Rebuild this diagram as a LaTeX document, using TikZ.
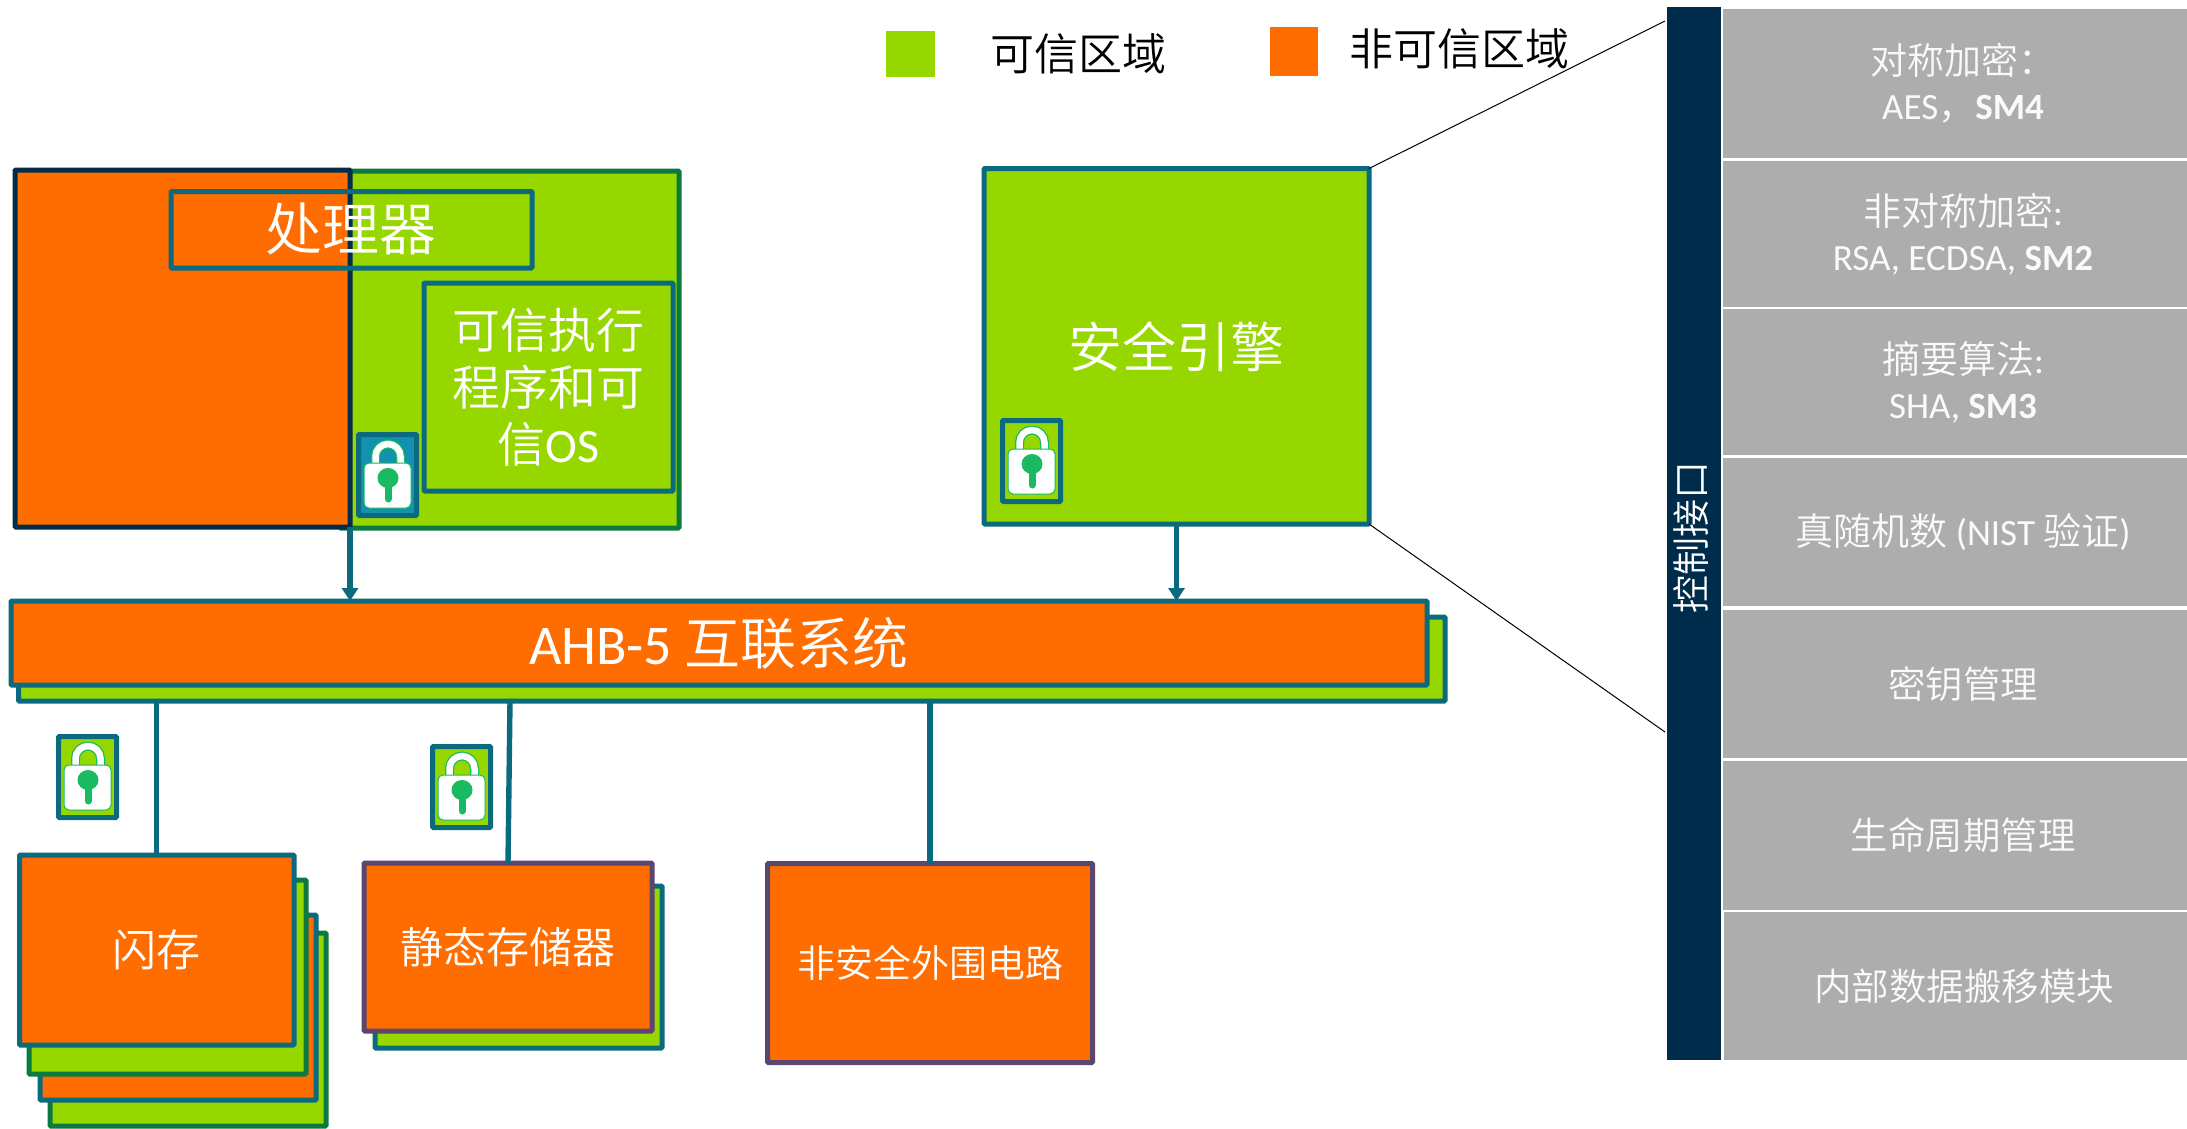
\documentclass[tikz,border=0pt]{standalone}
\usepackage{fontspec}
\setmainfont{Carlito}
\newfontfamily\cjk{Noto Sans CJK SC DemiLight}
\usetikzlibrary{arrows.meta,calc}
\definecolor{org}{HTML}{FF6C00}
\definecolor{grn}{HTML}{97D700}
\definecolor{teal2}{HTML}{0B6A7E}
\definecolor{navy}{HTML}{002C4C}
\definecolor{dgrn}{HTML}{0A7A3E}
\definecolor{purp}{HTML}{5B4670}
\definecolor{lockblue}{HTML}{1490B0}
\definecolor{lockgrn}{HTML}{19BA62}
\definecolor{cellgray}{HTML}{ADADAD}
\definecolor{celltxt}{HTML}{FAFAFA}
\newcommand{\fsz}[2]{\fontsize{#1}{#2}\selectfont}
\tikzset{
  x=1pt,y=-1pt,
  blk/.style={rectangle,inner sep=0pt,outer sep=0pt,line width=5pt,rounded corners=1pt,text=white,align=center,anchor=north west},
  orgbox/.style={blk,fill=org,draw=teal2},
  grnbox/.style={blk,fill=grn,draw=teal2},
  swatch/.style={rectangle,inner sep=0pt,outer sep=0pt,anchor=north west},
  legendtxt/.style={text=black,inner sep=0pt,font=\cjk\fsz{44}{50}},
  cell/.style={rectangle,fill=cellgray,inner sep=0pt,outer sep=0pt,anchor=north west,text=celltxt,align=center},
  conn/.style={teal2,line width=5.4pt},
  arr/.style={conn,-{Triangle[width=16pt,length=13pt]}},
  zoomline/.style={black,line width=1pt},
  lockbox/.style={blk,draw=teal2,minimum width=58pt,minimum height=81pt},
}
% name, x, y of outer top left, fill
\newcommand{\lockicon}[4]{%
  \node[lockbox,fill=#4] (#1) at (#2+2.5,#3+2.5) {};
  \begin{scope}[shift={(#2,#3)}]
    \draw[lockgrn,line width=9pt] (19.5,36) -- (19.5,24.5) arc[start angle=180,end angle=360,radius=12.5] -- (44.5,36);
    \draw[white,line width=6.5pt] (19.5,36) -- (19.5,24.5) arc[start angle=180,end angle=360,radius=12.5] -- (44.5,36);
    \draw[lockgrn,fill=white,line width=1pt,rounded corners=5pt] (8,31) rectangle (55,76);
    \fill[lockgrn] (32,46) ellipse[x radius=10.5,y radius=10];
    \draw[lockgrn,line width=7pt,line cap=round] (32,50) -- (32,67);
  \end{scope}}
\begin{document}
\begin{tikzpicture}
\useasboundingbox[fill=white] (0,0) rectangle (2187,1129);
% legend
\node[swatch,fill=grn,minimum width=49pt,minimum height=46pt] (sw1) at (886,31) {};
\node[legendtxt] (lg1) at (1078,54) {可信区域};
\node[swatch,fill=org,minimum width=48pt,minimum height=49pt] (sw2) at (1270,27) {};
\node[legendtxt] (lg2) at (1459,49) {非可信区域};
% processor
\node[blk,fill=grn,draw=dgrn,minimum width=339pt,minimum height=357pt] (cpug) at (340,171) {};
\node[blk,fill=org,draw=navy,minimum width=335pt,minimum height=357pt] (cpuo) at (15,170) {};
\node[blk,draw=teal2,minimum width=361pt,minimum height=76.5pt] (cpu) at (171,191.5) {};
\node[text=white,inner sep=0pt,font=\cjk\fsz{57}{60}] (cpul) at (351,229) {处理器};
\node[grnbox,minimum width=249pt,minimum height=208pt,font=\cjk\fsz{48}{57}] (tee) at (424,283) {可信执行\\程序和可\\信{\fontspec{Carlito}OS}};
\lockicon{lk1}{356}{432}{lockblue}
% engine
\node[grnbox,minimum width=385pt,minimum height=355.5pt,font=\cjk\fsz{54}{60}] (eng) at (984,168.5) {安全引擎};
\lockicon{lk2}{1000}{418}{grn}
% bus
\node[grnbox,minimum width=1426.5pt,minimum height=84pt] (busg) at (18.5,617) {};
\node[orgbox,minimum width=1416pt,minimum height=84pt] (bus) at (11,601) {\fsz{56}{60}AHB-5 {\cjk\fsz{56}{60}互联系统}};
% locks
\lockicon{lk3}{56}{734}{grn}
\lockicon{lk4}{430}{744}{grn}
% flash
\node[grnbox,draw=dgrn,minimum width=276pt,minimum height=193pt] (f4) at (50,933) {};
\node[orgbox,minimum width=276pt,minimum height=185pt] (f3) at (40,915) {};
\node[grnbox,draw=dgrn,minimum width=277pt,minimum height=194pt] (f2) at (29,880) {};
\node[orgbox,minimum width=274.5pt,minimum height=190pt,font=\cjk\fsz{44}{50}] (flash) at (19.5,855) {闪存};
% sram
\node[grnbox,minimum width=287pt,minimum height=162pt] (s2) at (375,886) {};
\node[orgbox,draw=purp,minimum width=288pt,minimum height=168pt,font=\cjk\fsz{43}{50}] (sram) at (364,863) {静态存储器};
% peripheral
\node[orgbox,draw=purp,minimum width=325pt,minimum height=199pt,font=\cjk\fsz{38}{44}] (per) at (767.5,863.5) {非安全外围电路};
% connectors
\draw[arr] (cpuo.south east) -- (cpuo.south east |- bus.north);
\draw[arr] (eng.south) -- (eng.south |- bus.north);
\draw[conn] (busg.south -| flash.north) -- (flash.north);
\coordinate (sramtop) at (510,701);
\draw[conn] (sramtop) -- (sram.north);
\draw[conn] (busg.south -| per.north) -- (per.north);
% control bar
\node[swatch,fill=navy,minimum width=54pt,minimum height=1053pt] (ctl) at (1667,7) {};
\node[text=white,inner sep=0pt,rotate=90,font=\cjk\fsz{38}{40}] (ctll) at (1691,537) {控制接口};
\coordinate (zt) at (1665,21);
\coordinate (zb) at (1665,732);
\draw[zoomline] (eng.north east) -- (zt);
\draw[zoomline] (eng.south east) -- (zb);
% cells
\tikzset{w1/.style={minimum width=480pt}}
\node[cell,w1,minimum height=149pt,font=\fsz{37}{45}] (c1) at (1723,9) {{\cjk\fsz{37}{45}对称加密：}\\AES{\cjk，}\textbf{SM4}};
\node[cell,w1,minimum height=146pt,font=\fsz{37}{45}] (c2) at (1723,161) {{\cjk\fsz{38}{45}非对称加密}:\\RSA, ECDSA, \textbf{SM2}};
\node[cell,w1,minimum height=146pt,font=\fsz{37}{45}] (c3) at (1723,309) {{\cjk\fsz{38}{45}摘要算法}:\\SHA, \textbf{SM3}};
\node[cell,w1,minimum height=148.5pt,font=\fsz{37}{45}] (c4) at (1723,457.5) {{\cjk\fsz{38}{45}真随机数} (NIST {\cjk\fsz{38}{45}验证})};
\node[cell,w1,minimum height=148pt,font=\cjk\fsz{37.5}{45}] (c5) at (1723,610) {密钥管理};
\node[cell,w1,minimum height=149pt,font=\cjk\fsz{37.5}{45}] (c6) at (1723,761) {\raisebox{-2pt}{生命周期管理}};
\node[cell,w1,minimum height=148pt,font=\cjk\fsz{37.5}{45}] (c7) at (1724,912) {内部数据搬移模块};
\end{tikzpicture}
\end{document}
